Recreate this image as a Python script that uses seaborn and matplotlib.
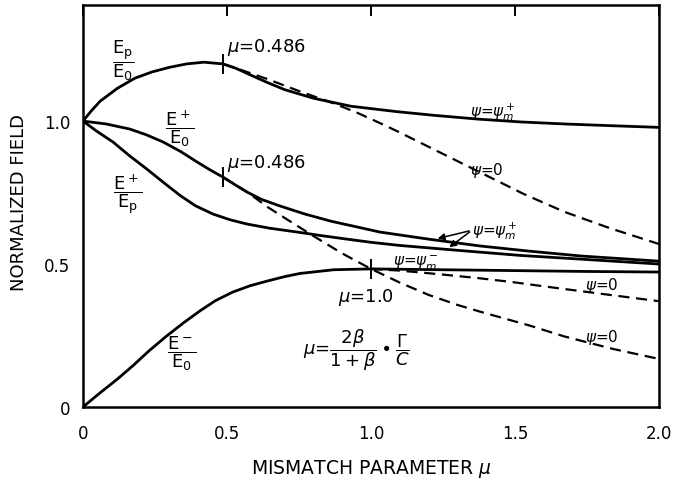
import numpy as np
import pandas as pd
import matplotlib.pyplot as plt
import seaborn as sns

# mismatch parameter mu vs normalized field
# psi = psi_m curves (solid)
mu_ep = [0, 0.03, 0.06, 0.12, 0.18, 0.24, 0.30, 0.36, 0.42, 0.486, 0.53, 0.58, 0.64, 0.70, 0.80, 0.93, 1.09, 1.22, 1.37, 1.52, 1.67, 1.83, 2.0]
ep_e0 = [1.0, 1.037, 1.07, 1.115, 1.15, 1.172, 1.188, 1.2, 1.206, 1.2, 1.185, 1.162, 1.135, 1.11, 1.08, 1.052, 1.033, 1.02, 1.007, 0.997, 0.99, 0.984, 0.978]

mu_ppo = [0, 0.08, 0.163, 0.22, 0.278, 0.34, 0.396, 0.44, 0.486, 0.53, 0.569, 0.62, 0.684, 0.77, 0.86, 0.95, 1.03, 1.2, 1.38, 1.55, 1.73, 2.0]
eplus_e0 = [1.0, 0.99, 0.972, 0.952, 0.927, 0.893, 0.857, 0.83, 0.804, 0.776, 0.752, 0.726, 0.703, 0.675, 0.65, 0.63, 0.612, 0.587, 0.563, 0.545, 0.528, 0.51]

mu_ppp = [0, 0.05, 0.104, 0.16, 0.222, 0.28, 0.337, 0.39, 0.451, 0.51, 0.569, 0.65, 0.743, 0.83, 0.917, 1.0, 1.1, 1.3, 1.52, 1.73, 2.0]
eplus_ep = [1.0, 0.963, 0.927, 0.88, 0.832, 0.785, 0.74, 0.704, 0.675, 0.655, 0.64, 0.625, 0.612, 0.599, 0.587, 0.576, 0.565, 0.548, 0.53, 0.517, 0.50]

mu_em = [0, 0.06, 0.12, 0.174, 0.23, 0.29, 0.35, 0.406, 0.46, 0.52, 0.58, 0.638, 0.70, 0.753, 0.87, 1.0, 1.25, 1.5, 1.75, 2.0]
eminus_e0 = [0, 0.05, 0.098, 0.145, 0.197, 0.248, 0.295, 0.336, 0.372, 0.402, 0.424, 0.44, 0.456, 0.467, 0.48, 0.483, 0.48, 0.477, 0.474, 0.472]

# psi = 0 curves (dashed)
mu_ep_0 = [0.486, 0.56, 0.64, 0.75, 0.87, 0.95, 1.02, 1.09, 1.17, 1.25, 1.40, 1.53, 1.67, 1.83, 2.0]
ep_e0_0 = [1.2, 1.175, 1.147, 1.105, 1.062, 1.03, 0.998, 0.965, 0.925, 0.885, 0.81, 0.745, 0.683, 0.625, 0.57]

mu_ppo_0 = [0.486, 0.57, 0.64, 0.71, 0.80, 0.90, 1.0, 1.1, 1.2, 1.3, 1.38, 1.55, 1.67, 1.84, 2.0]
eplus_e0_0 = [0.804, 0.752, 0.70, 0.655, 0.598, 0.537, 0.483, 0.435, 0.392, 0.357, 0.333, 0.285, 0.247, 0.203, 0.168]

mu_em_0 = [1.0, 1.1, 1.23, 1.37, 1.49, 1.6, 1.73, 1.86, 2.0]
eminus_e0_0 = [0.483, 0.477, 0.465, 0.451, 0.437, 0.422, 0.405, 0.388, 0.37]

# marked points on the curves
mark_mu = [0.486, 0.486, 1.0]
mark_val = [1.2, 0.804, 0.483]

x_ticks = [0, 0.5, 1.0, 1.5, 2.0]
x_tick_labels = ['0', '0.5', '1.0', '1.5', '2.0']
y_ticks = [0, 0.5, 1.0]
y_tick_labels = ['0', '0.5', '1.0']


def plot_fields():
    sns.set_theme(style="white")
    plt.rcParams['font.family'] = ['DejaVu Sans']
    plt.rcParams['mathtext.fontset'] = 'dejavusans'
    plt.rcParams['text.color'] = 'black'

    fig, ax = plt.subplots(figsize=(6.88, 4.81), dpi=100)
    fig.subplots_adjust(left=0.1206, right=0.958, bottom=0.1518, top=0.9875)

    solid = [(mu_ep, ep_e0), (mu_ppo, eplus_e0), (mu_ppp, eplus_ep), (mu_em, eminus_e0)]
    for x, y in solid:
        sns.lineplot(x=x, y=y, ax=ax, color='black', lw=2.0, sort=False, estimator=None)

    dashed = [(mu_ep_0, ep_e0_0), (mu_ppo_0, eplus_e0_0), (mu_em_0, eminus_e0_0)]
    for x, y in dashed:
        sns.lineplot(x=x, y=y, ax=ax, color='black', lw=1.6, sort=False, estimator=None,
                     linestyle=(0, (5, 3)))

    ax.plot(mark_mu, mark_val, ls='none', marker='|', ms=15, mew=1.4, color='black')

    ax.set_xlim(0, 2.0)
    ax.set_ylim(0, 1.406)
    ax.set_xticks(x_ticks)
    ax.set_xticklabels(x_tick_labels)
    ax.set_yticks(y_ticks)
    ax.set_yticklabels(y_tick_labels)
    ax.tick_params(direction='in', length=8, width=1.4, top=True, labelsize=12, colors='black')
    ax.tick_params(axis='x', pad=12)
    ax.tick_params(axis='y', pad=9)
    for s in ax.spines.values():
        s.set_color('black')
        s.set_linewidth(1.8)

    ax.set_xlabel('MISMATCH PARAMETER $\\mu$', fontsize=13.5, color='black')
    ax.xaxis.set_label_coords(0.5, -0.125)
    ax.set_ylabel('NORMALIZED FIELD', fontsize=13, color='black')
    ax.yaxis.set_label_coords(-0.095, 0.51)

    # curve labels
    fs = 13
    ax.text(0.139, 1.213, r'$\dfrac{\mathregular{E_p}}{\mathregular{E_0}}$', fontsize=fs, ha='center', va='center')
    ax.text(0.337, 0.979, r'$\dfrac{\mathregular{E^+}}{\mathregular{E_0}}$', fontsize=fs, ha='center', va='center')
    ax.text(0.156, 0.745, r'$\dfrac{\mathregular{E^+}}{\mathregular{E_p}}$', fontsize=fs, ha='center', va='center')
    ax.text(0.344, 0.189, r'$\dfrac{\mathregular{E^-}}{\mathregular{E_0}}$', fontsize=fs, ha='center', va='center')

    ax.text(0.5, 1.262, r'$\mu$=0.486', fontsize=fs, ha='left', va='center')
    ax.text(0.5, 0.855, r'$\mu$=0.486', fontsize=fs, ha='left', va='center')
    ax.text(0.983, 0.385, r'$\mu$=1.0', fontsize=fs, ha='center', va='center')

    ax.text(1.424, 1.035, r'$\psi$=$\psi_m^+$', fontsize=11, ha='center', va='center')
    ax.text(1.403, 0.832, r'$\psi$=0', fontsize=11, ha='center', va='center')
    ax.text(1.43, 0.62, r'$\psi$=$\psi_m^+$', fontsize=11, ha='center', va='center')
    ax.text(1.156, 0.51, r'$\psi$=$\psi_m^-$', fontsize=11, ha='center', va='center')
    ax.text(1.802, 0.43, r'$\psi$=0', fontsize=11, ha='center', va='center')
    ax.text(1.802, 0.245, r'$\psi$=0', fontsize=11, ha='center', va='center')

    ax.text(0.951, 0.203, r'$\mu$=$\dfrac{2\beta}{1+\beta}\bullet\dfrac{\Gamma}{C}$', fontsize=13,
            ha='center', va='center')

    # arrows from the psi_m+ label to both curves
    for tip in [(1.222, 0.587), (1.264, 0.553)]:
        ax.annotate('', xy=tip, xytext=(1.35, 0.618),
                    arrowprops=dict(arrowstyle='-|>', color='black', lw=1.1, mutation_scale=10))

    fig.savefig('out.png', dpi=100)
    plt.close(fig)


if __name__ == "__main__":
    plot_fields()
